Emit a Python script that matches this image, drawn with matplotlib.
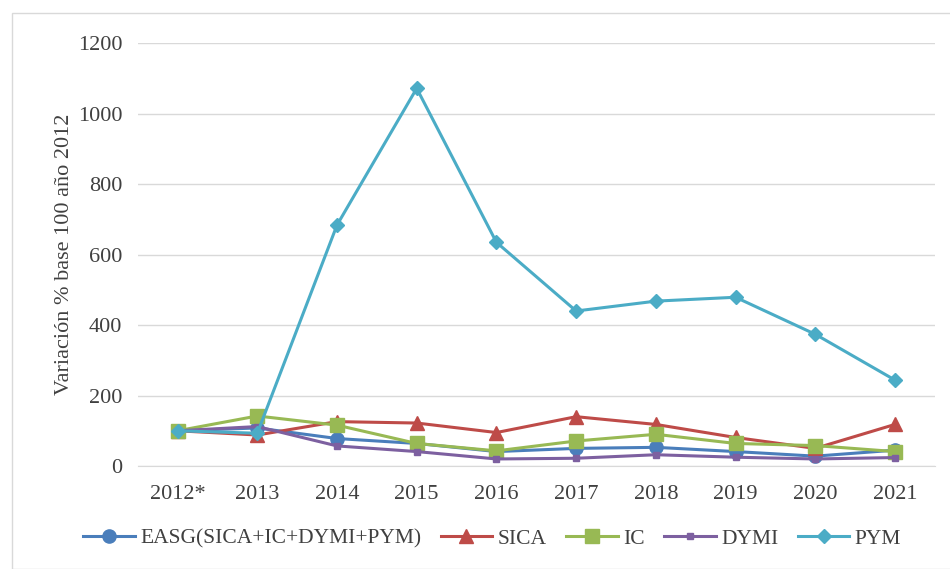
import matplotlib.pyplot as plt
from matplotlib.patches import Rectangle

plt.rcParams['font.family'] = ['Liberation Serif', 'DejaVu Serif']

years = ['2012*', '2013', '2014', '2015', '2016', '2017', '2018', '2019', '2020', '2021']
easg = [100, 108, 78, 64, 41, 50, 53, 41, 28, 45]
sica = [100, 88, 126, 122, 95, 140, 118, 81, 50, 118]
ic = [100, 142, 116, 64, 43, 71, 90, 64, 58, 41]
dymi = [100, 112, 57, 41, 20, 22, 32, 25, 20, 24]
pym = [100, 93, 684, 1072, 635, 440, 468, 479, 374, 244]

series = [
    ('EASG(SICA+IC+DYMI+PYM)', easg, '#4A7EBB', 'o', 9.5),
    ('SICA', sica, '#BE4B48', '^', 9.5),
    ('IC', ic, '#98B954', 's', 9.5),
    ('DYMI', dymi, '#7D60A0', 's', 4),
    ('PYM', pym, '#4BACC6', 'D', 7.5),
]

fig = plt.figure(figsize=(9.5, 5.69), dpi=100)
ax = fig.add_axes([0.145, 0.181, 0.839, 0.743])

x = list(range(len(years)))
for name, vals, col, mk, ms in series:
    ax.plot(x, vals, color=col, lw=2.2, marker=mk, markersize=ms,
            markerfacecolor=col, markeredgecolor=col, label=name)

ax.set_xlim(-0.5, len(years) - 0.5)
ax.set_ylim(0, 1200)
ax.set_yticks(range(0, 1201, 200))
ax.set_xticks(x)
ax.set_xticklabels(years)
ax.grid(axis='y', color='#D9D9D9', lw=1)
ax.set_axisbelow(True)
for s in ['top', 'right', 'left']:
    ax.spines[s].set_visible(False)
ax.spines['bottom'].set_color('#D9D9D9')
ax.tick_params(length=0, labelsize=16, colors='#404040')
ax.tick_params(axis='y', pad=11)
ax.tick_params(axis='x', pad=14)
ax.set_ylabel('Variación % base 100 año 2012', fontsize=16, color='#404040', labelpad=3)

ax.legend(loc='center', bbox_to_anchor=(0.518, 0.053), bbox_transform=fig.transFigure,
          ncol=5, frameon=False, fontsize=15.5, handlelength=2.4, handletextpad=0.25,
          columnspacing=0.9, labelcolor='#404040')

fig.patches.append(Rectangle((12 / 950, 0), 1, 1 - 13 / 569, transform=fig.transFigure,
                             fill=False, edgecolor='#D9D9D9', lw=1))

fig.savefig('out.png')
